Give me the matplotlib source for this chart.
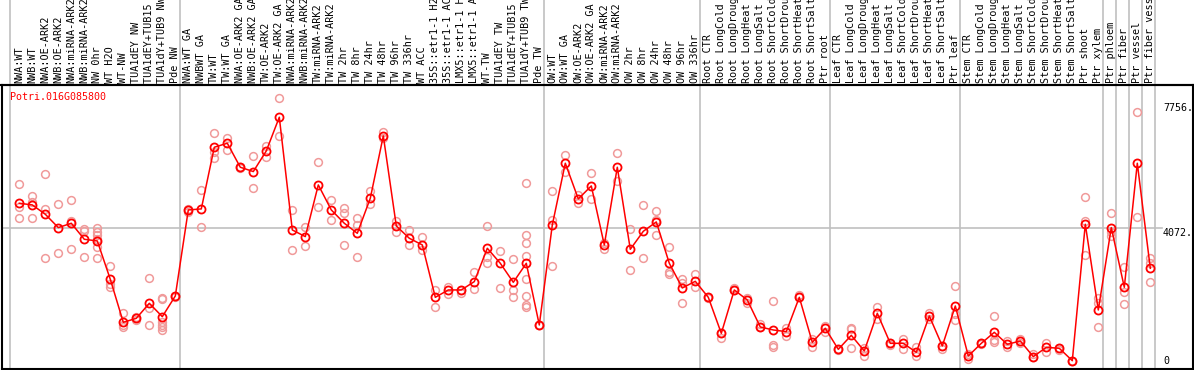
import numpy as np
import matplotlib
matplotlib.use('Agg')
import matplotlib.pyplot as plt

GENE = 'Potri.016G085800'
MEAN_COLOR = '#FF0000'
REP_COLOR = '#F09A9A'
GRID_COLOR = '#C0C0C0'
FONT = 'DejaVu Sans Mono'

samples = [
    'NWA:WT', 'NWB:WT', 'NWA:OE-ARK2', 'NWB:OE-ARK2', 'NWA:miRNA-ARK2',
    'NWB:miRNA-ARK2', 'NW 0hr', 'WT H2O', 'WT-NW', 'TUA1dEY NW',
    'TUA1dEY+TUB15 NW', 'TUA1dY+TUB9 NW', 'Pde NW',
    'NWA:WT GA', 'NWBWT GA', 'TW:WT', 'TW:WT GA', 'NWA:OE-ARK2 GA',
    'NWB:OE-ARK2 GA', 'TW:OE-ARK2', 'TW:OE-ARK2 GA', 'NWA:miRNA-ARK2 GA',
    'NWB:miRNA-ARK2 GA', 'TW:miRNA-ARK2', 'TW:miRNA-ARK2 GA', 'TW 2hr',
    'TW 8hr', 'TW 24hr', 'TW 48hr', 'TW 96hr', 'TW 336hr', 'WT ACC',
    '35S::etr1-1 H2O', '35S::etr1-1 ACC', 'LMX5::etr1-1 H2O',
    'LMX5::etr1-1 ACC', 'WT-TW', 'TUA1dEY TW', 'TUA1dEY+TUB15 TW',
    'TUA1dY+TUB9 TW', 'Pde TW',
    'OW:WT', 'OW:WT GA', 'OW:OE-ARK2', 'OW:OE-ARK2 GA', 'OW:miRNA-ARK2',
    'OW:miRNA-ARK2 GA', 'OW 2hr', 'OW 8hr', 'OW 24hr', 'OW 48hr', 'OW 96hr',
    'OW 336hr',
    'Root CTR', 'Root LongCold', 'Root LongDrought', 'Root LongHeat',
    'Root LongSalt', 'Root ShortCold', 'Root ShortDrought', 'Root ShortHeat',
    'Root ShortSalt', 'Ptr root',
    'Leaf CTR', 'Leaf LongCold', 'Leaf LongDrought', 'Leaf LongHeat',
    'Leaf LongSalt', 'Leaf ShortCold', 'Leaf ShortDrought', 'Leaf ShortHeat',
    'Leaf ShortSalt', 'Ptr leaf',
    'Stem CTR', 'Stem LongCold', 'Stem LongDrought', 'Stem LongHeat',
    'Stem LongSalt', 'Stem ShortCold', 'Stem ShortDrought', 'Stem ShortHeat',
    'Stem ShortSalt', 'Ptr shoot', 'Ptr xylem', 'Ptr phloem', 'Ptr fiber',
    'Ptr vessel', 'Ptr fiber vessel',
]

means = [
    4802, 4753, 4477, 4084, 4212, 3739, 3690, 2558, 1289, 1407, 1850, 1456, 2066,
    4605, 4635, 6455, 6573, 5865, 5737, 6347, 7341, 4015, 3818, 5343, 4605,
    4212, 3916, 4950, 6790, 4133, 3769, 3572, 2027, 2244, 2244, 2490, 3474,
    3031, 2470, 3031, 1210,
    4162, 5983, 4930, 5314, 3572, 5865, 3444, 3975, 4251, 3031, 2303, 2499,
    2027, 964, 2244, 1948, 1151, 1063, 1014, 2027, 699, 1112,
    492, 905, 443, 1555, 669, 669, 403, 1476, 590, 1771,
    295, 669, 994, 640, 738, 276, 551, 522, 157, 4182, 1653, 4084, 2322,
    5983, 2883,
]

replicates = [
    [5363, 4704, 4359], [5018, 4851, 4359], [5658, 4625, 3178], [4772, 3326],
    [4900, 4280, 3444], [4034, 3995, 3208],
    [4064, 3966, 3867, 3739, 3503, 3178], [2952, 2411, 2342],
    [1574, 1210, 1141], [1456, 1358], [2588, 1702, 1200],
    [1998, 1968, 1309, 1210, 1141, 1063], [2066, 2040],
    [4625, 4556], [5196, 4093], [6868, 6327, 6150], [6740, 6376],
    [5865, 5840], [6199, 5245], [6494, 6180], [7902, 6790], [4605, 3424],
    [4113, 3542], [6022, 4684], [4900, 4310], [4654, 4507, 3572],
    [4379, 4162, 3208], [5176, 4772], [6918, 6740], [4290, 3966],
    [4015, 3562], [3818, 3424], [2244, 1732], [2342, 2125], [2145, 2244],
    [2775, 2283], [4133, 3228, 3050], [3385, 2293], [3149, 2244, 2027],
    [5392, 3867, 3621, 3247, 2558, 2066, 1801, 1732], [1210, 1200],
    [5166, 4310, 2952], [6229, 5737], [5048, 4802], [5688, 4920],
    [3621, 3464], [6278, 5471], [4034, 2824], [4743, 3178],
    [4566, 4310, 3857], [3503, 2785, 2716], [2558, 2460, 1850],
    [2716, 2322], [1998, 2027], [836, 964], [2293, 2244], [1998, 1870],
    [1230, 1151], [1919, 620, 571], [1132, 886], [2096, 2027], [787, 571],
    [1181, 1014], [492, 480], [1132, 1082, 522], [522, 305], [1732, 1397],
    [610, 669], [787, 492], [571, 305], [1555, 1378], [492, 590],
    [2362, 1535, 1358], [344, 197], [669, 660], [1476, 768, 718],
    [748, 571], [787, 689], [354, 276], [689, 423], [472, 522], [157, 150],
    [4979, 4280, 3277], [1998, 1850, 1161], [4507, 3966, 3838],
    [2913, 2194, 1820], [7508, 4408], [3178, 3031, 2470],
]

# columns after which a separator line is drawn
group_ends = [12, 40, 52, 62, 72, 83, 84, 85, 86, 87]
y_ticks = [7756, 4072, 0]

# pixel geometry of the reference
W, H = 1194, 370
HEADER_PX = 85
X0_PX, STEP_PX = 19.3, 13.0
ZERO_PX, VAL_PER_PX = 366.0, 4072 / 138.0


def px_to_col(px):
    return (px - X0_PX) / STEP_PX


def px_to_val(px):
    return (ZERO_PX - px) * VAL_PER_PX


fig = plt.figure(figsize=(W / 100, H / 100), dpi=100)
fig.patch.set_facecolor('white')

# plot area below the header
ax = fig.add_axes([1.5 / W, 1.5 / H, (W - 3) / W, (H - HEADER_PX - 1.5) / H])
ax.set_xlim(px_to_col(1.5), px_to_col(W - 1.5))
ax.set_ylim(px_to_val(H - 1.5), px_to_val(HEADER_PX))
for s in ax.spines.values():
    s.set_color('black')
    s.set_linewidth(1.5)
ax.set_xticks([])
ax.set_yticks([])

hdr = fig.add_axes([1.5 / W, (H - HEADER_PX) / H, (W - 3) / W, HEADER_PX / H])
hdr.set_xlim(ax.get_xlim())
hdr.set_ylim(0, 1)
hdr.axis('off')

xs = np.arange(len(samples))
seps = [-0.72] + [g + 0.38 for g in group_ends]
for sx in seps:
    ax.axvline(sx, color=GRID_COLOR, lw=1.2, zorder=0)
    hdr.axvline(sx, color=GRID_COLOR, lw=1.2, zorder=0)
ax.plot([px_to_col(0), px_to_col(1162)], [4072, 4072], color=GRID_COLOR,
        lw=1.2, zorder=0)

# replicate points
for i, reps in enumerate(replicates):
    ax.plot([xs[i]] * len(reps), reps, 'o', ms=5.6, mfc='none', mec=REP_COLOR,
            mew=1.1, zorder=2, clip_on=False)

# mean line and markers
ax.plot(xs, means, '-', color=MEAN_COLOR, lw=1.1, zorder=3)
ax.plot(xs, means, 'o', ms=5.8, mfc='none', mec=MEAN_COLOR, mew=1.3, zorder=4)

# sample labels in the header
for i, name in enumerate(samples):
    hdr.text(xs[i], 2 / HEADER_PX, name, rotation=90, ha='center', va='bottom',
             family=FONT, fontsize=7.3, color='black', clip_on=True)

ax.text(px_to_col(10), px_to_val(92), GENE, color=MEAN_COLOR, family=FONT,
        fontsize=7.2, ha='left', va='top')

lab_x = px_to_col(1163)
for v in y_ticks:
    if v == 0:
        ax.text(lab_x, v, '0', family=FONT, fontsize=7.2, ha='left',
                va='bottom')
    else:
        ax.text(lab_x, v, '%d.' % v, family=FONT, fontsize=7.2, ha='left',
                va='top')

# header bottom line
fig.add_artist(plt.Line2D([0, 1], [(H - HEADER_PX) / H] * 2, color='black',
                          lw=1.5))

fig.savefig('out.png', dpi=100, facecolor='white')
